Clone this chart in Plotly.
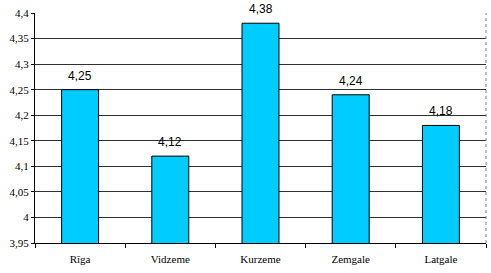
import plotly.graph_objects as go

categories = ["Rīga", "Vidzeme", "Kurzeme", "Zemgale", "Latgale"]
values = [4.25, 4.12, 4.38, 4.24, 4.18]
y_ticks = [3.95, 4.0, 4.05, 4.1, 4.15, 4.2, 4.25, 4.3, 4.35, 4.4]
y_tick_labels = ["3,95", "4", "4,05", "4,1", "4,15", "4,2", "4,25", "4,3", "4,35", "4,4"]

fig = go.Figure(go.Bar(
    x=categories, y=values,
    marker=dict(color="#00CCFF", line=dict(color="black", width=1)),
    width=0.41,
))
for c, v in zip(categories, values):
    fig.add_annotation(x=c, y=v, text=f"{v:.2f}".replace(".", ","),
                       showarrow=False, yanchor="bottom", yshift=5,
                       font=dict(family="Liberation Sans", size=12, color="black"))

fig.update_layout(
    width=491, height=273,
    margin=dict(l=35, r=5, t=13, b=30),
    paper_bgcolor="white", plot_bgcolor="white",
    separators=", ",
    showlegend=False,
    bargap=0.59,
)
fig.update_yaxes(
    range=[3.95, 4.4], tickvals=y_ticks, ticktext=y_tick_labels,
    showgrid=True, gridcolor="#303030", gridwidth=1,
    showline=True, linecolor="black", linewidth=1,
    ticks="outside", ticklen=3, tickcolor="black",
    tickfont=dict(family="Liberation Serif", size=11, color="black"),
    zeroline=False,
)
fig.update_xaxes(
    showline=True, linecolor="black", linewidth=1,
    ticks="outside", ticklen=4, tickcolor="black", tickson="boundaries",
    ticklabelstandoff=6,
    tickfont=dict(family="Liberation Serif", size=11, color="black"),
)
fig.add_shape(type="line", xref="paper", yref="paper", x0=1, x1=1, y0=0, y1=1,
              line=dict(color="#808080", width=1, dash="dot"))

fig.write_html("out.html")
